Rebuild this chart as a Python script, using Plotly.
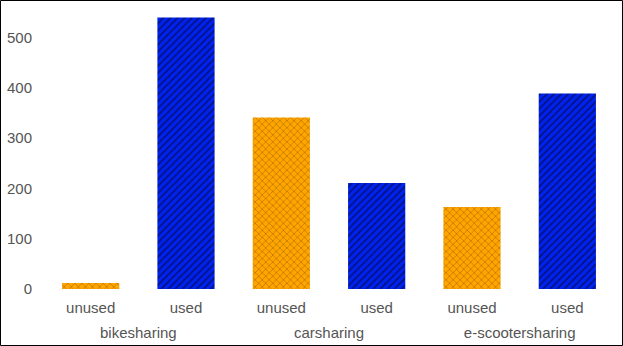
import plotly.graph_objects as go

# Data
services = ["bikesharing", "carsharing", "e-scootersharing"]
states = ["unused", "used"]
unused_vals = [12, 341, 163]
used_vals = [540, 211, 389]

W, H = 623, 346
ml, mr, mt, mb = 43, 8, 4, 57

# one category per (service, state), in display order
cats = [f"{s}|{st}" for s in services for st in states]
tick_text = [st for s in services for st in states]
group_pos = [i * len(states) + (len(states) - 1) / 2 for i in range(len(services))]

fig = go.Figure()
fig.add_trace(go.Bar(
    x=[f"{s}|unused" for s in services],
    y=unused_vals,
    name="unused",
    width=0.6,
    marker=dict(
        color="orange",
        line=dict(width=0),
        pattern=dict(shape="x", fgcolor="#6b4200", bgcolor="orange",
                     size=5, solidity=0.25, fillmode="overlay"),
    ),
))
fig.add_trace(go.Bar(
    x=[f"{s}|used" for s in services],
    y=used_vals,
    name="used",
    width=0.6,
    marker=dict(
        color="#0022ee",
        line=dict(width=0),
        pattern=dict(shape="/", fgcolor="#000000", bgcolor="#0022ee",
                     size=5, solidity=0.3, fillmode="overlay"),
    ),
))
# invisible helper so the group-label axis gets drawn
fig.add_trace(go.Scatter(
    x=group_pos, y=[0] * len(services), xaxis="x2",
    mode="markers", marker=dict(opacity=0), hoverinfo="skip", showlegend=False,
))

pw = W - ml - mr
ph = H - mt - mb
# border around the whole figure
fig.add_shape(
    type="rect", xref="paper", yref="paper",
    x0=-(ml - 0.5) / pw, x1=1 + (mr - 0.5) / pw,
    y0=-(mb - 0.5) / ph, y1=1 + (mt - 0.5) / ph,
    line=dict(color="black", width=1), layer="above",
)

fig.update_layout(
    width=W, height=H,
    margin=dict(l=ml, r=mr, t=mt, b=mb, autoexpand=False),
    template="none",
    plot_bgcolor="white",
    paper_bgcolor="white",
    showlegend=False,
    barmode="overlay",
    font=dict(family="Liberation Sans, Arial, sans-serif", size=15, color="#555555"),
    xaxis=dict(type="category", categoryorder="array", categoryarray=cats,
               tickvals=cats, ticktext=tick_text,
               showgrid=False, showline=False, zeroline=False, ticks="",
               automargin=False, ticklabelstandoff=8),
    xaxis2=dict(overlaying="x", anchor="y", side="bottom", type="linear",
                range=[-0.5, len(cats) - 0.5],
                tickvals=group_pos, ticktext=services,
                showgrid=False, showline=False, zeroline=False, ticks="",
                automargin=False, ticklabelstandoff=33),
    yaxis=dict(showgrid=False, showline=False, zeroline=False, ticks="",
               automargin=False, ticklabelstandoff=10,
               range=[0, 567], tickvals=[0, 100, 200, 300, 400, 500]),
)

fig.write_html("out.html", config={"displayModeBar": False},
               post_script="document.body.style.margin='0';")
